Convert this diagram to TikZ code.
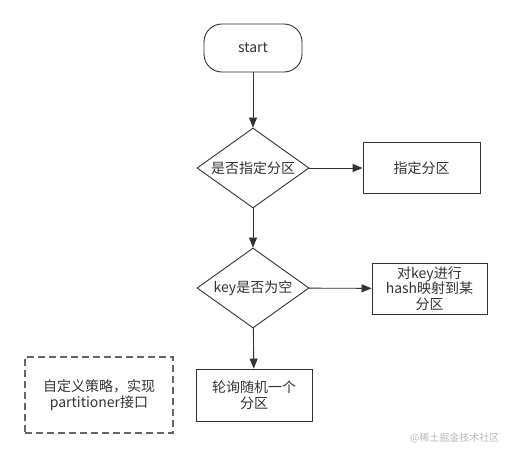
\documentclass[tikz,border=0pt]{standalone}
\usepackage{fontspec}
\setmainfont{Noto Sans CJK SC}
\usetikzlibrary{shapes.geometric,arrows.meta}
\definecolor{ink}{HTML}{333333}
\begin{document}
\begin{tikzpicture}[x=1pt,y=-1pt,
  every node/.style={font=\fontsize{14}{16.5}\selectfont, text=ink, align=center},
  startbox/.style={draw=ink, line width=0.9pt, rounded corners=18pt, minimum width=98pt, minimum height=48pt, inner sep=0pt},
  decision/.style={draw=ink, line width=0.9pt, diamond, shape aspect=1.4, minimum width=112pt, minimum height=80pt, inner sep=0pt},
  procbox/.style={draw=ink, line width=0.9pt, minimum width=#1, minimum height=51pt, inner sep=0pt},
  note/.style={draw=black!60, dashed, dash pattern=on 7pt off 4pt, line width=1.1pt, minimum width=148pt, minimum height=76pt, inner sep=0pt},
  flow/.style={draw=ink, line width=0.9pt, -{Triangle[length=10pt,width=8pt]}}
]
\useasboundingbox (0,0) rectangle (513,458);
\node[startbox] (start) at (253,48) {start};
\node[decision] (d1) at (253,168) {是否指定分区};
\node[procbox=117pt] (p1) at (421.5,168) {指定分区};
\node[decision] (d2) at (253,288) {key是否为空};
\node[procbox=115pt, font=\fontsize{14}{15.5}\selectfont] (p2) at (429.5,288.5) {对key进行\\hash映射到某\\分区};
\node[procbox=116pt, minimum height=52pt] (p3) at (254,395) {轮询随机一个\\分区};
\node[note] (n1) at (99,395) {自定义策略，实现\\partitioner接口};
\node[font=\fontsize{10}{12}\selectfont, text=black!28, anchor=east] (wm) at (503,438) {@稀土掘金技术社区};
\draw[flow] (start) -- (d1);
\draw[flow] (d1) -- (p1);
\draw[flow] (d1) -- (d2);
\draw[flow] (d2) -- (p2);
\draw[flow] (d2) -- (p3);
\end{tikzpicture}
\end{document}
